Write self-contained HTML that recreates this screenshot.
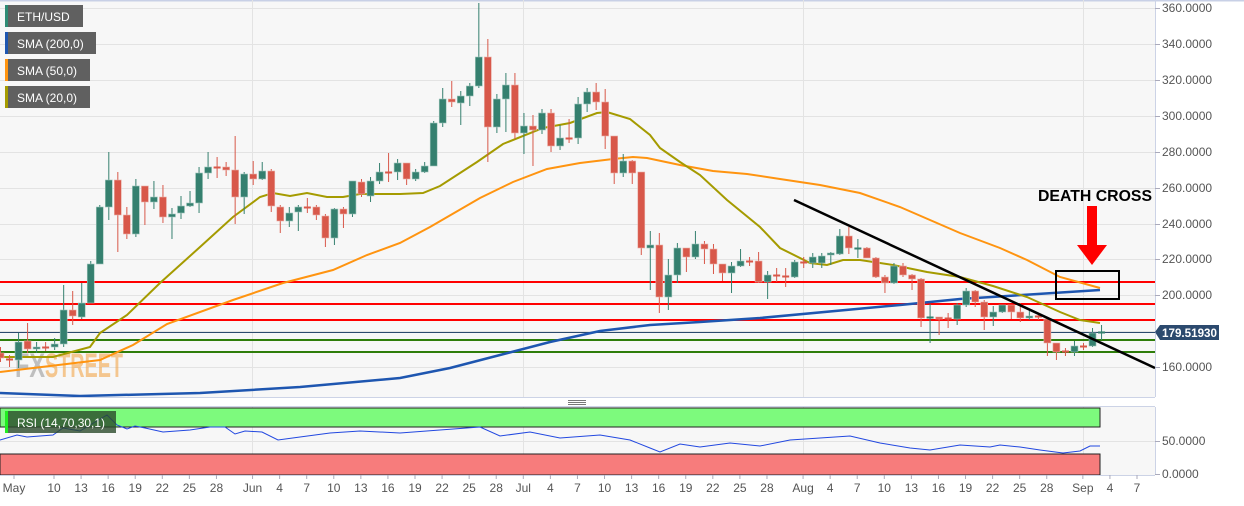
<!DOCTYPE html>
<html><head><meta charset="utf-8">
<style>
html,body{margin:0;padding:0;background:#fff;}
body{width:1244px;height:501px;overflow:hidden;font-family:"Liberation Sans",sans-serif;}
svg text{font-family:"Liberation Sans",sans-serif;}
</style></head>
<body>
<svg id="s" width="1244" height="501" xmlns="http://www.w3.org/2000/svg">
<rect x="0" y="0" width="1244" height="501" fill="#ffffff"/>
<rect x="0" y="0" width="1155" height="397" fill="#f7f7f7"/>
<rect x="0" y="407" width="1155" height="68" fill="#f7f7f7"/>
<line x1="0" y1="0.5" x2="1244" y2="0.5" stroke="#c8d0e6" stroke-width="2"/>
<g stroke="#e3e3e3" stroke-width="1">
<line x1="0" y1="8.5" x2="1155" y2="8.5"/><line x1="0" y1="44.5" x2="1155" y2="44.5"/>
<line x1="0" y1="80.5" x2="1155" y2="80.5"/><line x1="0" y1="116.5" x2="1155" y2="116.5"/>
<line x1="0" y1="152.5" x2="1155" y2="152.5"/><line x1="0" y1="188.5" x2="1155" y2="188.5"/>
<line x1="0" y1="224.5" x2="1155" y2="224.5"/><line x1="0" y1="259.5" x2="1155" y2="259.5"/>
<line x1="0" y1="295.5" x2="1155" y2="295.5"/><line x1="0" y1="331.5" x2="1155" y2="331.5"/>
<line x1="0" y1="367.5" x2="1155" y2="367.5"/>
<line x1="252.5" y1="0" x2="252.5" y2="397"/><line x1="523.5" y1="0" x2="523.5" y2="397"/>
<line x1="803.5" y1="0" x2="803.5" y2="397"/><line x1="1083.5" y1="0" x2="1083.5" y2="397"/>
<line x1="252.5" y1="407" x2="252.5" y2="475"/><line x1="523.5" y1="407" x2="523.5" y2="475"/>
<line x1="803.5" y1="407" x2="803.5" y2="475"/><line x1="1083.5" y1="407" x2="1083.5" y2="475"/>
<line x1="0" y1="441.5" x2="1155" y2="441.5"/>
</g>
<!-- watermark -->
<g font-weight="bold" font-size="34">
<text x="15" y="377" fill="#9a9a9a" fill-opacity="0.6" textLength="30" lengthAdjust="spacingAndGlyphs">FX</text>
<text x="45" y="377" fill="#f2a54a" fill-opacity="0.6" textLength="78" lengthAdjust="spacingAndGlyphs">STREET</text>
</g>
<!-- horizontal levels -->
<line x1="0" y1="282" x2="1155" y2="282" stroke="#ff0000" stroke-width="2"/>
<line x1="0" y1="304" x2="1155" y2="304" stroke="#ff0000" stroke-width="2"/>
<line x1="0" y1="320" x2="1155" y2="320" stroke="#ff0000" stroke-width="2"/>
<line x1="0" y1="332.5" x2="1155" y2="332.5" stroke="#2c4a6e" stroke-width="1"/>
<line x1="0" y1="340" x2="1155" y2="340" stroke="#2e7d0a" stroke-width="2"/>
<line x1="0" y1="352" x2="1155" y2="352" stroke="#2e7d0a" stroke-width="2"/>
<!-- SMAs -->
<polyline fill="none" stroke="#1e56b0" stroke-width="2.5" points="0,393 80,396 200,393 300,387 400,378 450,368 500,355 550,342 600,331 650,325 700,322 760,318 900,305 960,299 1100,290"/>
<polyline fill="none" stroke="#ff9410" stroke-width="2" points="0,372 50,366 100,360 133,345 167,324 233,300 283,283 333,270 367,255 400,243 430,227 480,198 513,182 547,169 580,163 613,159 633,157 647,158 680,165 713,171 747,174 780,179 820,185 860,193 900,207 930,220 960,233 1000,248 1027,260 1060,277 1100,288"/>
<polyline fill="none" stroke="#a59b00" stroke-width="2" points="0,357 53,357 90,347 100,333 127,315 160,283 200,247 233,217 260,197 273,193 290,196 307,193 327,197 343,197 360,194 400,194 423,193 440,186 477,162 503,144 543,128 570,123 597,113 607,112 630,119 650,135 660,148 680,162 700,175 727,200 760,227 780,248 810,263 827,265 843,260 860,260 893,265 927,272 960,277 993,286 1027,297 1060,312 1080,320 1100,323"/>
<g id="candles"></g>
<!-- trendline -->
<line x1="794" y1="200" x2="1155" y2="368" stroke="#000" stroke-width="2.5"/>
<!-- death cross -->
<rect x="1056" y="271" width="63" height="28" fill="none" stroke="#000" stroke-width="2"/>
<rect x="1087" y="206" width="10" height="40" fill="#ff0000"/>
<polygon points="1077,245 1107,245 1092,265" fill="#ff0000"/>
<text x="1038" y="201" font-size="16" font-weight="bold" fill="#000" textLength="114" lengthAdjust="spacingAndGlyphs">DEATH CROSS</text>
<!-- legends -->
<g font-size="12" fill="#fff">
<rect x="5" y="5" width="78" height="22" fill="#606060"/><rect x="5" y="5" width="3" height="22" fill="#2e8b74"/><text x="17" y="21">ETH/USD</text>
<rect x="5" y="32" width="91" height="22" fill="#606060"/><rect x="5" y="32" width="3" height="22" fill="#1e56b0"/><text x="17" y="48">SMA (200,0)</text>
<rect x="5" y="59" width="85" height="22" fill="#606060"/><rect x="5" y="59" width="3" height="22" fill="#ff9410"/><text x="17" y="75">SMA (50,0)</text>
<rect x="5" y="86" width="85" height="22" fill="#606060"/><rect x="5" y="86" width="3" height="22" fill="#a59b00"/><text x="17" y="102">SMA (20,0)</text>
</g>
<!-- panel separator -->
<line x1="0" y1="397.5" x2="1155" y2="397.5" stroke="#ccd3e6"/>
<line x1="0" y1="406.5" x2="1155" y2="406.5" stroke="#ccd3e6"/>
<g stroke="#777"><line x1="568" y1="400.5" x2="586" y2="400.5"/><line x1="568" y1="402.5" x2="586" y2="402.5"/><line x1="568" y1="404.5" x2="586" y2="404.5"/></g>
<!-- RSI -->
<rect x="0" y="408" width="1100" height="19" fill="#7dfa7d" stroke="#222" stroke-width="1"/>
<rect x="0" y="454" width="1100" height="21" fill="#f77c7c" stroke="#222" stroke-width="1"/>
<polyline fill="none" stroke="#2248e0" stroke-width="1" points="0,440 17,435 27,437 53,435 63,428 80,431 107,415 117,425 127,429 135,426 145,428 163,432 190,430 210,427 225,427 235,434 245,431 262,432 278,440 300,437 330,433 360,431 400,433 440,430 480,427 500,436 530,432 560,438 600,435 630,440 650,448 660,452 680,444 700,447 730,443 760,446 790,440 820,438 850,436 880,443 910,448 930,450 960,445 990,447 1000,445 1020,447 1040,450 1063,453 1080,451 1090,446 1100,446"/>
<rect x="5" y="411" width="111" height="22" fill="#2a4a2a" fill-opacity="0.8"/>
<rect x="5" y="411" width="3" height="22" fill="#22ee22"/>
<text x="17" y="427" font-size="12" fill="#fff">RSI (14,70,30,1)</text>
<!-- axes -->
<line x1="1155.5" y1="0" x2="1155.5" y2="397" stroke="#ccd3e6"/>
<line x1="1155.5" y1="407" x2="1155.5" y2="475" stroke="#ccd3e6"/>
<line x1="0" y1="475.5" x2="1155" y2="475.5" stroke="#ccd3e6"/>
<g font-size="12" fill="#555" id="pax"></g>
<g font-size="12" fill="#555" id="xax" text-anchor="middle"></g>
<!-- price marker -->
<polygon points="1155,332 1160,325 1219,325 1219,340 1160,340" fill="#2c4a6e"/>
<text x="1162" y="337" font-size="12" font-weight="bold" fill="#fff" textLength="55" lengthAdjust="spacingAndGlyphs">179.51930</text>
</svg>
<script>
var NS="http://www.w3.org/2000/svg";
function el(t,a,p){var e=document.createElementNS(NS,t);for(var k in a)e.setAttribute(k,a[k]);p.appendChild(e);return e;}
var d=[[353,358,347,362],[359,359,355,367],[360,342,333,368],[341,349,323,353],[349,347,342,353],[347,347,342,351],[347,344,338,350],[344,310,285,347],[310,316,291,325],[317,303,283,319],[303,264,261,303],[264,207,205,264],[207,180,152,220],[180,215,172,252],[215,234,207,239],[234,186,179,237],[186,202,186,225],[202,197,181,209],[197,217,185,223],[217,214,208,239],[213,206,196,219],[206,203,191,207],[203,173,167,213],[173,167,152,179],[167,167,157,178],[167,170,162,176],[170,197,136,224],[197,174,172,214],[174,179,161,185],[179,171,162,180],[171,206,169,212],[207,221,205,233],[221,213,207,227],[212,207,205,231],[207,207,198,213],[207,215,205,220],[216,238,214,247],[238,209,208,245],[209,214,207,228],[214,181,181,217],[182,194,179,197],[196,181,177,202],[181,172,163,184],[172,172,153,182],[172,163,159,180],[163,179,163,185],[179,172,169,181],[172,166,162,173],[166,123,121,166],[123,99,88,127],[99,102,81,107],[103,96,91,125],[96,86,83,106],[86,57,3,88],[57,127,39,162],[127,99,94,133],[99,85,73,132],[85,133,73,139],[133,126,113,154],[126,130,115,166],[130,113,109,134],[113,146,109,152],[146,138,125,150],[138,138,119,143],[138,104,97,144],[104,92,88,112],[92,102,83,110],[102,136,89,149],[136,173,136,184],[173,161,154,177],[161,173,160,184],[172,248,172,255],[248,245,231,290],[245,297,233,313],[297,275,259,310],[275,248,243,283],[248,257,248,272],[257,244,231,259],[244,249,241,264],[249,264,244,274],[264,273,265,281],[273,266,262,293],[266,261,249,267],[261,261,257,266],[261,282,252,283],[282,275,271,299],[275,275,268,282],[276,277,268,287],[277,262,260,278],[262,262,257,268],[263,257,253,268],[263,256,253,268],[255,253,252,265],[254,236,229,255],[236,248,227,254],[249,248,239,258],[248,258,247,258],[258,277,257,278],[277,283,275,293],[283,266,263,284],[266,275,263,277],[275,279,274,290],[279,318,278,327],[318,317,304,343],[317,319,317,335],[318,318,313,328],[319,305,303,325],[305,291,288,307],[291,302,290,307],[302,317,300,330],[317,312,306,326],[312,305,305,313],[305,312,305,319],[312,318,303,322],[318,316,311,320],[316,317,315,320],[319,343,318,356],[343,352,343,360],[351,351,348,356],[352,346,341,356],[346,346,343,350],[346,333,328,347],[333,332,325,340]];
var g=document.getElementById("candles");
d.forEach(function(c,k){var x=9.025*k+0.5;var up=c[1]<c[0];var col=up?"#35806f":"#d8584a";var bor=up?"#9fc5bb":"#eab0a8";
el("line",{x1:x,y1:c[2],x2:x,y2:c[3],stroke:col,"stroke-width":1},g);
var t=Math.min(c[0],c[1]),h=Math.abs(c[0]-c[1]);
if(h<1.5){el("rect",{x:x-3.5,y:t-0.5,width:7,height:2,fill:col},g);}
else el("rect",{x:x-3.5,y:t,width:7,height:h,fill:col,stroke:bor,"stroke-width":0.6},g);});
var pax=document.getElementById("pax");
[[360,8],[340,44],[320,80],[300,116],[280,152],[260,188],[240,224],[220,259],[200,295],[160,367]].forEach(function(p){
el("line",{x1:1155,y1:p[1]+0.5,x2:1160,y2:p[1]+0.5,stroke:"#aab"},pax);
var t=el("text",{x:1162,y:p[1]+4},pax);t.textContent=p[0].toFixed(4);});
[["50.0000",441],["0.0000",474]].forEach(function(p){el("line",{x1:1155,y1:p[1]+0.5,x2:1160,y2:p[1]+0.5,stroke:"#aab"},pax);var t=el("text",{x:1162,y:p[1]+4},pax);t.textContent=p[0];});
var xax=document.getElementById("xax");
var L=[["May",14],["10",54]];var lab=["13","16","19","22","25","28"];
for(var i=0;i<6;i++)L.push([lab[i],54+(3+3*i)*9.025]);
var months=[["Jun",22],["Jul",52],["Aug",83],["Sep",114]];
months.forEach(function(m,mi){L.push([m[0],54+m[1]*9.025]);
var n=mi==3?2:9;for(var j=1;j<=n;j++){var day=1+3*j;L.push([String(day),54+(m[1]+3*j)*9.025]);}});
L.forEach(function(l){el("line",{x1:l[1],y1:475,x2:l[1],y2:479,stroke:"#aab"},xax);var t=el("text",{x:l[1],y:492},xax);t.textContent=l[0];});
</script>
</body></html>
